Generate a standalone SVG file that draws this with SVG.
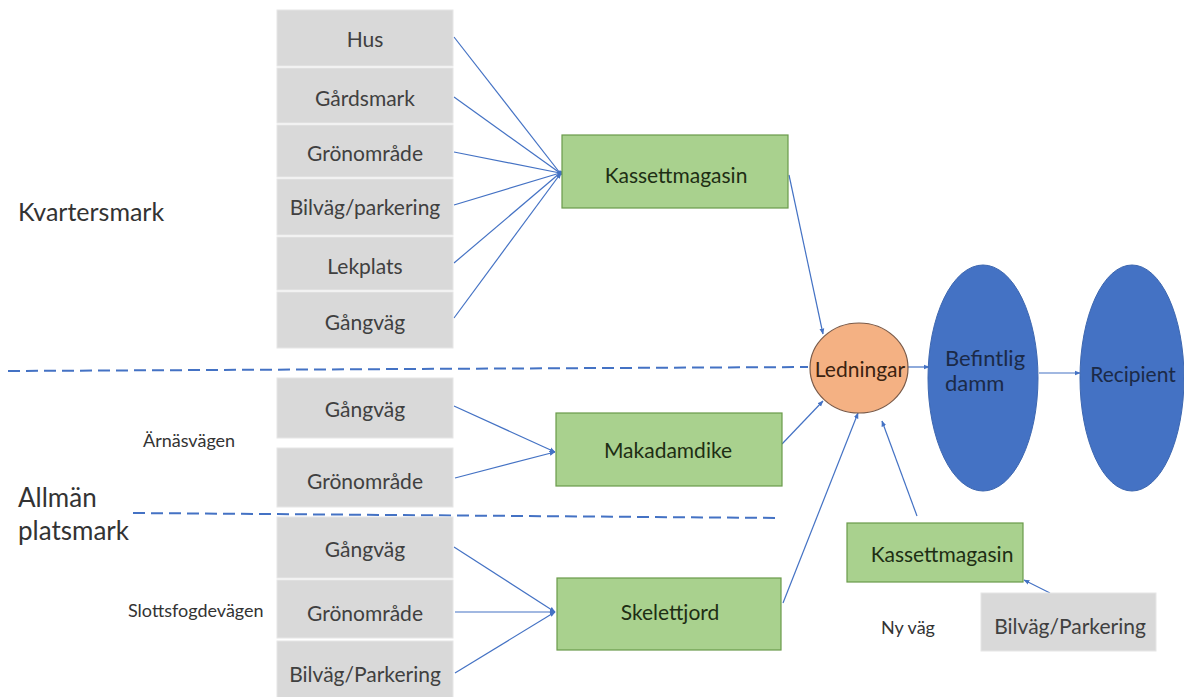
<svg xmlns="http://www.w3.org/2000/svg" width="1184" height="697" viewBox="0 0 1184 697">
<defs>
<marker id="ah" viewBox="0 0 10 10" refX="9" refY="5" markerWidth="6" markerHeight="6" orient="auto" markerUnits="userSpaceOnUse">
<path d="M0,1 L10,5 L0,9 z" fill="#4472C4"/>
</marker>
<style>
.grey{fill:#D9D9D9;stroke:#E6E6E6;stroke-width:1}
.green{fill:#A9D18E;stroke:#6A9A4A;stroke-width:1.2}
.blue{fill:#4472C4;stroke:#3D67B0;stroke-width:1}
.t{font-family:Lato,"Liberation Sans",sans-serif;font-size:21px;text-anchor:middle;dominant-baseline:central}
.ts{font-family:Lato,"Liberation Sans",sans-serif;font-size:22px;text-anchor:start;dominant-baseline:central}
.gt{fill:#404040}
.grt{fill:#1E2E14}
.bt{fill:#1B2A48}
.lbl{font-family:Lato,"Liberation Sans",sans-serif;fill:#333333}
.c{fill:none;stroke:#4472C4;stroke-width:1.2;marker-end:url(#ah)}
.cn{fill:none;stroke:#4472C4;stroke-width:1.2}
.dash{fill:none;stroke:#4472C4;stroke-width:2;stroke-dasharray:12 6}
</style>
</defs>
<rect width="1184" height="697" fill="#FFFFFF"/>

<g id="dividers">
<path class="dash" d="M8,371 L808,367"/>
<path class="dash" d="M133,513 L780,518"/>
</g>

<g id="labels">
<text class="lbl" x="18" y="211" font-size="25" dominant-baseline="central">Kvartersmark</text>
<text class="lbl" x="143" y="440" font-size="18" dominant-baseline="central">Ärnäsvägen</text>
<text class="lbl" x="18" y="497" font-size="26" dominant-baseline="central">Allmän</text>
<text class="lbl" x="18" y="530" font-size="26" dominant-baseline="central">platsmark</text>
<text class="lbl" x="128" y="610" font-size="18" dominant-baseline="central">Slottsfogdevägen</text>
<text class="lbl" x="908" y="627" font-size="18" text-anchor="middle" dominant-baseline="central">Ny väg</text>
</g>

<g id="connectors">
<path class="cn" d="M454,37 L560,173"/>
<path class="cn" d="M454,97 L560,173"/>
<path class="cn" d="M454,152 L560,173"/>
<path class="cn" d="M454,205 L560,173"/>
<path class="cn" d="M454,263 L560,173"/>
<path class="c" d="M454,318 L561,173"/>
<circle cx="560" cy="173" r="2.5" fill="#4472C4"/>
<path class="c" d="M789,175 L823,334"/>
<path class="c" d="M454,406 L555,452"/>
<path class="c" d="M455,478 L555,452"/>
<path class="c" d="M782,444 L823,401"/>
<path class="c" d="M454,547 L555,612"/>
<path class="c" d="M455,612 L555,612"/>
<path class="c" d="M455,673 L555,612"/>
<path class="c" d="M783,603 Q800,560 858,413"/>
<path class="c" d="M917,516 L882,421"/>
<path class="c" d="M1050,593 L1024,580"/>
<path class="c" d="M908,367 L929,367"/>
<path class="c" d="M1039,373 L1080,373"/>
</g>

<g id="n-hus"><rect class="grey" x="277" y="10" width="176" height="56"/><text class="t gt" x="365" y="38">Hus</text></g>
<g id="n-gardsmark"><rect class="grey" x="277" y="68" width="176" height="55"/><text class="t gt" x="365" y="97">Gårdsmark</text></g>
<g id="n-gronomrade1"><rect class="grey" x="277" y="125" width="176" height="52"/><text class="t gt" x="365" y="152">Grönområde</text></g>
<g id="n-bilvag1"><rect class="grey" x="277" y="179" width="176" height="56"/><text class="t gt" x="365" y="206">Bilväg/parkering</text></g>
<g id="n-lekplats"><rect class="grey" x="277" y="237" width="176" height="53"/><text class="t gt" x="365" y="265">Lekplats</text></g>
<g id="n-gangvag1"><rect class="grey" x="277" y="292" width="176" height="56"/><text class="t gt" x="365" y="321">Gångväg</text></g>

<g id="n-kassett1"><rect class="green" x="562" y="135" width="226" height="73"/><text class="t grt" x="676" y="174">Kassettmagasin</text></g>

<g id="n-gangvag2"><rect class="grey" x="277" y="378" width="176" height="60"/><text class="t gt" x="365" y="408">Gångväg</text></g>
<g id="n-gronomrade2"><rect class="grey" x="277" y="448" width="176" height="59"/><text class="t gt" x="365" y="480">Grönområde</text></g>
<g id="n-makadam"><rect class="green" x="556" y="413" width="226" height="73"/><text class="t grt" x="668" y="449">Makadamdike</text></g>

<g id="n-gangvag3"><rect class="grey" x="277" y="517" width="176" height="61"/><text class="t gt" x="365" y="548">Gångväg</text></g>
<g id="n-gronomrade3"><rect class="grey" x="277" y="580" width="176" height="58"/><text class="t gt" x="365" y="612">Grönområde</text></g>
<g id="n-bilvag2"><rect class="grey" x="277" y="641" width="176" height="60"/><text class="t gt" x="365" y="673">Bilväg/Parkering</text></g>
<g id="n-skelett"><rect class="green" x="557" y="578" width="224" height="72"/><text class="t grt" x="670" y="611">Skelettjord</text></g>

<g id="n-ledningar"><ellipse cx="859" cy="368" rx="49" ry="45" fill="#F4B183" stroke="#7A5A48" stroke-width="1.2"/><text class="t" x="860" y="368" fill="#3A2210">Ledningar</text></g>
<g id="n-befintlig"><ellipse class="blue" cx="983" cy="378" rx="55" ry="113"/><text class="ts bt" x="945" y="357">Befintlig</text><text class="ts bt" x="945" y="382">damm</text></g>
<g id="n-recipient"><ellipse class="blue" cx="1132" cy="378" rx="52" ry="113"/><text class="t bt" x="1133" y="373" font-size="22">Recipient</text></g>

<g id="n-kassett2"><rect class="green" x="847" y="523" width="176" height="59"/><text class="t grt" x="942" y="553">Kassettmagasin</text></g>
<g id="n-bilvag3"><rect class="grey" x="981" y="593" width="175" height="58"/><text class="t gt" x="1070" y="625">Bilväg/Parkering</text></g>
</svg>
